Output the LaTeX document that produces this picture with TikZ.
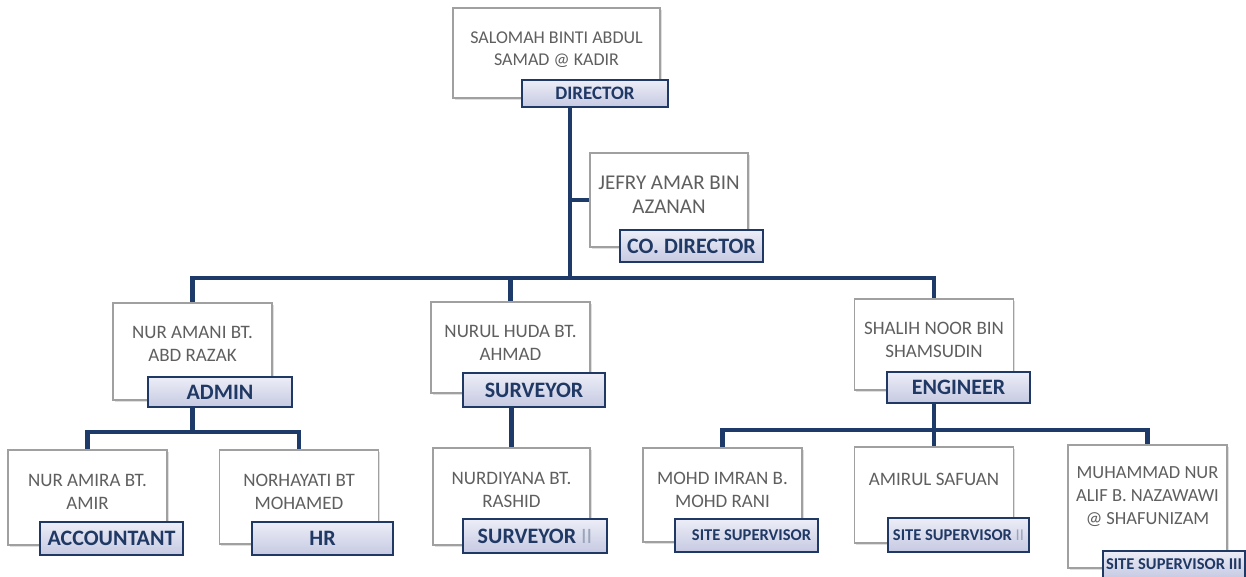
\documentclass[tikz,border=0pt]{standalone}
\usepackage{fontspec}
\setmainfont{Carlito}
\usetikzlibrary{positioning,backgrounds,shadows}
\definecolor{rolenavy}{RGB}{31,56,100}
\definecolor{linknavy}{RGB}{30,58,105}
\definecolor{namegray}{RGB}{95,95,95}
\definecolor{boxgray}{RGB}{160,160,160}
\definecolor{roletop}{RGB}{236,237,247}
\definecolor{rolebot}{RGB}{198,202,226}

\begin{document}
\begin{tikzpicture}[x=1pt,y=-1pt,
  person/.style={draw=boxgray, fill=white, line width=1.1pt, inner sep=0pt,
                 minimum width=159pt, minimum height=95pt,
                 drop shadow={opacity=0.25, shadow xshift=1.5pt, shadow yshift=-1.5pt}},
  who/.style={font=\fontsize{19}{23}\selectfont, text=namegray, align=center,
              inner sep=0pt},
  role/.style={draw=rolenavy, line width=2.4pt, top color=roletop, bottom color=rolebot,
               minimum width=143pt, minimum height=33pt, inner sep=0pt,
               font=\bfseries\fontsize{22}{22}\selectfont, text=rolenavy},
  small/.style={font=\bfseries\fontsize{16.5}{16.5}\selectfont},
  link/.style={draw=linknavy, line width=4.5pt},
]
\useasboundingbox (0,0) rectangle (1246,576);

% ---- Director ----
\node[person, minimum width=207pt, minimum height=90pt] (dir) at (556.5,53) {};
\node[who, font=\fontsize{18}{22}\selectfont, below=24pt of dir.north] (dir-n)
  {SALOMAH BINTI ABDUL\\SAMAD @ KADIR};
\node[role, minimum width=146pt, minimum height=27pt,
      font=\bfseries\fontsize{19}{19}\selectfont] (dir-r) at (595,93.5) {DIRECTOR};

% ---- Co. director ----
\node[person, minimum width=158pt, minimum height=94pt] (codir) at (669,200) {};
\node[who, font=\fontsize{21}{24}\selectfont, below=23pt of codir.north] (codir-n)
  {JEFRY AMAR BIN\\AZANAN};
\node[role, minimum height=32pt] (codir-r) at (691.5,246) {CO. DIRECTOR};

% ---- Second level ----
\node[person, minimum height=97pt] (admin) at (192.5,351.5) {};
\node[who, below=24pt of admin.north] (admin-n) {NUR AMANI BT.\\ABD RAZAK};
\node[role, minimum width=144pt, minimum height=30pt] (admin-r) at (220,392) {ADMIN};

\node[person, minimum height=91pt] (surv) at (510.5,347.5) {};
\node[who, below=24pt of surv.north] (surv-n) {NURUL HUDA BT.\\AHMAD};
\node[role, minimum width=142pt, minimum height=34pt] (surv-r) at (534,390) {SURVEYOR};

\node[person, minimum height=91pt] (eng) at (934,344.5) {};
\node[who, below=24pt of eng.north] (eng-n) {SHALIH NOOR BIN\\SHAMSUDIN};
\node[role, minimum height=31pt] (eng-r) at (958.5,387.5) {ENGINEER};

% ---- Third level ----
\node[person] (acc) at (87.5,497.5) {};
\node[who, below=25pt of acc.north] (acc-n) {NUR AMIRA BT.\\AMIR};
\node[role] (acc-r) at (111.5,538.5) {ACCOUNTANT};

\node[person, minimum height=94pt] (hr) at (299,497) {};
\node[who, below=25pt of hr.north] (hr-n) {NORHAYATI BT\\MOHAMED};
\node[role, minimum width=141pt] (hr-r) at (322.5,538.5) {HR};

\node[person, minimum width=157pt, minimum height=97pt] (surv2) at (511.5,496.5) {};
\node[who, below=25pt of surv2.north] (surv2-n) {NURDIYANA BT.\\RASHID};
\node[role, minimum width=144pt, minimum height=34pt] (surv2-r) at (535,536)
  {SURVEYOR {\mdseries\color{rolenavy!45}II}};

\node[person, minimum height=94pt] (imran) at (722.5,495) {};
\node[who, below=25pt of imran.north] (imran-n) {MOHD IMRAN B.\\MOHD RANI};
\node[role, small] (imran-r) at (746.5,535.5) {\hspace{10pt}SITE SUPERVISOR};

\node[person, minimum height=96pt] (amirul) at (934,495) {};
\node[who, below=27pt of amirul.north] (amirul-n) {AMIRUL SAFUAN};
\node[role, small, minimum width=141pt, minimum height=34pt] (amirul-r) at (958.5,535)
  {SITE SUPERVISOR {\mdseries\color{rolenavy!45}II}};

\node[person, minimum height=123pt] (muh) at (1147.5,506.5) {};
\node[who, font=\fontsize{18.5}{23}\selectfont, below=22pt of muh.north] (muh-n)
  {MUHAMMAD NUR\\ALIF B. NAZAWAWI\\@ SHAFUNIZAM};
\node[role, small, minimum width=142pt, minimum height=27pt] (muh-r) at (1174,564.5)
  {SITE SUPERVISOR III};

% ---- Connections ----
\coordinate (bus) at (570,278);
\coordinate (abus) at (192.5,432);
\coordinate (ebus) at (934,430);

\begin{scope}[on background layer]
% director trunk
\draw[link] (dir-r.south -| bus) -- (bus);
\draw[link] (codir.west -| bus) -- (codir.west);
% second level
\draw[link] (admin.north) |- (bus) -| (eng.north);
\draw[link] (surv.north) -- (surv.north |- bus);
% under admin
\draw[link] (admin-r.south -| admin.south) -- (abus);
\draw[link] (acc.north) |- (abus) -| (hr.north);
% under surveyor
\draw[link] (surv-r.south -| surv2.north) -- (surv2.north);
% under engineer
\draw[link] (eng-r.south -| eng.south) -- (ebus);
\draw[link] (imran.north) |- (ebus) -| (muh.north);
\draw[link] (ebus) -- (amirul.north);
\end{scope}

\end{tikzpicture}
\end{document}
